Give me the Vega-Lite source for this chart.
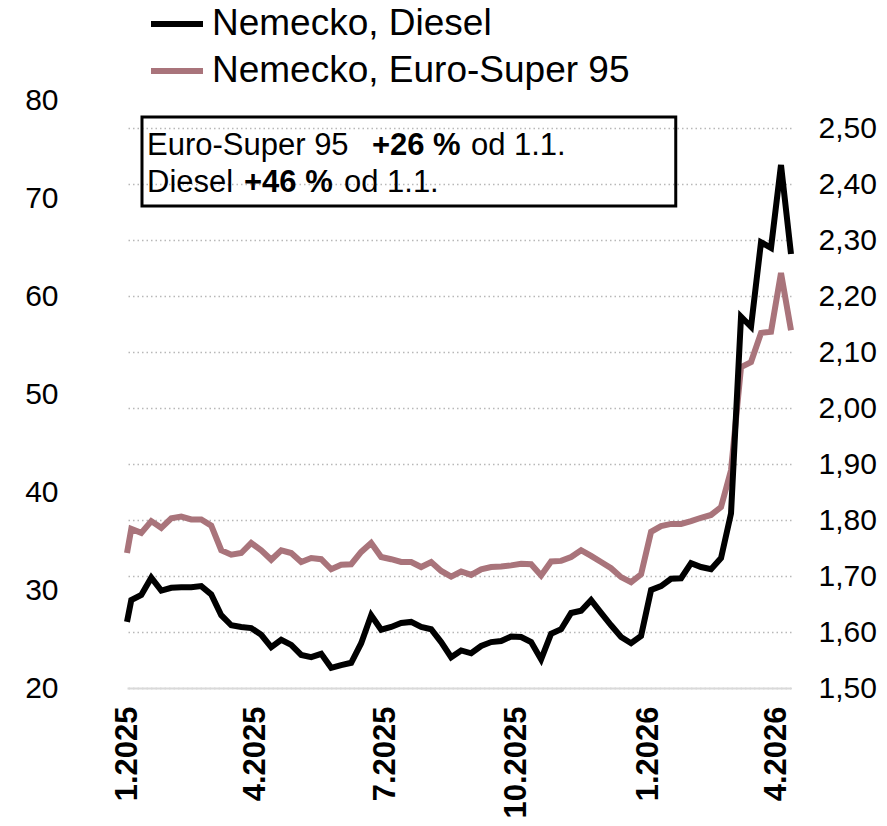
{
  "$schema": "https://vega.github.io/schema/vega-lite/v6.json",
  "width": 664,
  "height": 588,
  "autosize": {"type": "none"},
  "padding": {"left": 127, "top": 100, "right": 96, "bottom": 138},
  "background": "white",
  "config": {"view": {"stroke": null}, "font": "Liberation Sans"},
  "datasets": {
    "prices": [
      {"date": "2025-01-01", "series": "Nemecko, Euro-Super 95", "price": 1.741},
      {"date": "2025-01-04", "series": "Nemecko, Euro-Super 95", "price": 1.784},
      {"date": "2025-01-11", "series": "Nemecko, Euro-Super 95", "price": 1.777},
      {"date": "2025-01-18", "series": "Nemecko, Euro-Super 95", "price": 1.798},
      {"date": "2025-01-25", "series": "Nemecko, Euro-Super 95", "price": 1.786},
      {"date": "2025-02-01", "series": "Nemecko, Euro-Super 95", "price": 1.803},
      {"date": "2025-02-08", "series": "Nemecko, Euro-Super 95", "price": 1.806},
      {"date": "2025-02-15", "series": "Nemecko, Euro-Super 95", "price": 1.801},
      {"date": "2025-02-22", "series": "Nemecko, Euro-Super 95", "price": 1.801},
      {"date": "2025-03-01", "series": "Nemecko, Euro-Super 95", "price": 1.790},
      {"date": "2025-03-08", "series": "Nemecko, Euro-Super 95", "price": 1.746},
      {"date": "2025-03-15", "series": "Nemecko, Euro-Super 95", "price": 1.738},
      {"date": "2025-03-22", "series": "Nemecko, Euro-Super 95", "price": 1.741},
      {"date": "2025-03-29", "series": "Nemecko, Euro-Super 95", "price": 1.759},
      {"date": "2025-04-05", "series": "Nemecko, Euro-Super 95", "price": 1.746},
      {"date": "2025-04-12", "series": "Nemecko, Euro-Super 95", "price": 1.729},
      {"date": "2025-04-19", "series": "Nemecko, Euro-Super 95", "price": 1.746},
      {"date": "2025-04-26", "series": "Nemecko, Euro-Super 95", "price": 1.741},
      {"date": "2025-05-03", "series": "Nemecko, Euro-Super 95", "price": 1.725},
      {"date": "2025-05-10", "series": "Nemecko, Euro-Super 95", "price": 1.732},
      {"date": "2025-05-17", "series": "Nemecko, Euro-Super 95", "price": 1.730},
      {"date": "2025-05-24", "series": "Nemecko, Euro-Super 95", "price": 1.712},
      {"date": "2025-05-31", "series": "Nemecko, Euro-Super 95", "price": 1.720},
      {"date": "2025-06-07", "series": "Nemecko, Euro-Super 95", "price": 1.721},
      {"date": "2025-06-14", "series": "Nemecko, Euro-Super 95", "price": 1.743},
      {"date": "2025-06-21", "series": "Nemecko, Euro-Super 95", "price": 1.759},
      {"date": "2025-06-28", "series": "Nemecko, Euro-Super 95", "price": 1.734},
      {"date": "2025-07-05", "series": "Nemecko, Euro-Super 95", "price": 1.730},
      {"date": "2025-07-12", "series": "Nemecko, Euro-Super 95", "price": 1.725},
      {"date": "2025-07-19", "series": "Nemecko, Euro-Super 95", "price": 1.725},
      {"date": "2025-07-26", "series": "Nemecko, Euro-Super 95", "price": 1.716},
      {"date": "2025-08-02", "series": "Nemecko, Euro-Super 95", "price": 1.725},
      {"date": "2025-08-09", "series": "Nemecko, Euro-Super 95", "price": 1.709},
      {"date": "2025-08-16", "series": "Nemecko, Euro-Super 95", "price": 1.699},
      {"date": "2025-08-23", "series": "Nemecko, Euro-Super 95", "price": 1.708},
      {"date": "2025-08-30", "series": "Nemecko, Euro-Super 95", "price": 1.702},
      {"date": "2025-09-06", "series": "Nemecko, Euro-Super 95", "price": 1.712},
      {"date": "2025-09-13", "series": "Nemecko, Euro-Super 95", "price": 1.716},
      {"date": "2025-09-20", "series": "Nemecko, Euro-Super 95", "price": 1.717},
      {"date": "2025-09-27", "series": "Nemecko, Euro-Super 95", "price": 1.719},
      {"date": "2025-10-04", "series": "Nemecko, Euro-Super 95", "price": 1.722},
      {"date": "2025-10-11", "series": "Nemecko, Euro-Super 95", "price": 1.721},
      {"date": "2025-10-18", "series": "Nemecko, Euro-Super 95", "price": 1.701},
      {"date": "2025-10-25", "series": "Nemecko, Euro-Super 95", "price": 1.726},
      {"date": "2025-11-01", "series": "Nemecko, Euro-Super 95", "price": 1.727},
      {"date": "2025-11-08", "series": "Nemecko, Euro-Super 95", "price": 1.734},
      {"date": "2025-11-15", "series": "Nemecko, Euro-Super 95", "price": 1.746},
      {"date": "2025-11-22", "series": "Nemecko, Euro-Super 95", "price": 1.736},
      {"date": "2025-11-29", "series": "Nemecko, Euro-Super 95", "price": 1.725},
      {"date": "2025-12-06", "series": "Nemecko, Euro-Super 95", "price": 1.714},
      {"date": "2025-12-13", "series": "Nemecko, Euro-Super 95", "price": 1.698},
      {"date": "2025-12-20", "series": "Nemecko, Euro-Super 95", "price": 1.689},
      {"date": "2025-12-27", "series": "Nemecko, Euro-Super 95", "price": 1.703},
      {"date": "2026-01-03", "series": "Nemecko, Euro-Super 95", "price": 1.779},
      {"date": "2026-01-10", "series": "Nemecko, Euro-Super 95", "price": 1.789},
      {"date": "2026-01-17", "series": "Nemecko, Euro-Super 95", "price": 1.793},
      {"date": "2026-01-24", "series": "Nemecko, Euro-Super 95", "price": 1.793},
      {"date": "2026-01-31", "series": "Nemecko, Euro-Super 95", "price": 1.798},
      {"date": "2026-02-07", "series": "Nemecko, Euro-Super 95", "price": 1.804},
      {"date": "2026-02-14", "series": "Nemecko, Euro-Super 95", "price": 1.809},
      {"date": "2026-02-21", "series": "Nemecko, Euro-Super 95", "price": 1.823},
      {"date": "2026-02-28", "series": "Nemecko, Euro-Super 95", "price": 1.889},
      {"date": "2026-03-07", "series": "Nemecko, Euro-Super 95", "price": 2.073},
      {"date": "2026-03-14", "series": "Nemecko, Euro-Super 95", "price": 2.082},
      {"date": "2026-03-21", "series": "Nemecko, Euro-Super 95", "price": 2.134},
      {"date": "2026-03-28", "series": "Nemecko, Euro-Super 95", "price": 2.136},
      {"date": "2026-04-04", "series": "Nemecko, Euro-Super 95", "price": 2.241},
      {"date": "2026-04-11", "series": "Nemecko, Euro-Super 95", "price": 2.139},
      {"date": "2025-01-01", "series": "Nemecko, Diesel", "price": 1.618},
      {"date": "2025-01-04", "series": "Nemecko, Diesel", "price": 1.657},
      {"date": "2025-01-11", "series": "Nemecko, Diesel", "price": 1.666},
      {"date": "2025-01-18", "series": "Nemecko, Diesel", "price": 1.697},
      {"date": "2025-01-25", "series": "Nemecko, Diesel", "price": 1.674},
      {"date": "2025-02-01", "series": "Nemecko, Diesel", "price": 1.679},
      {"date": "2025-02-08", "series": "Nemecko, Diesel", "price": 1.680},
      {"date": "2025-02-15", "series": "Nemecko, Diesel", "price": 1.680},
      {"date": "2025-02-22", "series": "Nemecko, Diesel", "price": 1.682},
      {"date": "2025-03-01", "series": "Nemecko, Diesel", "price": 1.667},
      {"date": "2025-03-08", "series": "Nemecko, Diesel", "price": 1.630},
      {"date": "2025-03-15", "series": "Nemecko, Diesel", "price": 1.612},
      {"date": "2025-03-22", "series": "Nemecko, Diesel", "price": 1.609},
      {"date": "2025-03-29", "series": "Nemecko, Diesel", "price": 1.607},
      {"date": "2025-04-05", "series": "Nemecko, Diesel", "price": 1.595},
      {"date": "2025-04-12", "series": "Nemecko, Diesel", "price": 1.573},
      {"date": "2025-04-19", "series": "Nemecko, Diesel", "price": 1.586},
      {"date": "2025-04-26", "series": "Nemecko, Diesel", "price": 1.577},
      {"date": "2025-05-03", "series": "Nemecko, Diesel", "price": 1.559},
      {"date": "2025-05-10", "series": "Nemecko, Diesel", "price": 1.555},
      {"date": "2025-05-17", "series": "Nemecko, Diesel", "price": 1.561},
      {"date": "2025-05-24", "series": "Nemecko, Diesel", "price": 1.536},
      {"date": "2025-05-31", "series": "Nemecko, Diesel", "price": 1.541},
      {"date": "2025-06-07", "series": "Nemecko, Diesel", "price": 1.545},
      {"date": "2025-06-14", "series": "Nemecko, Diesel", "price": 1.580},
      {"date": "2025-06-21", "series": "Nemecko, Diesel", "price": 1.630},
      {"date": "2025-06-28", "series": "Nemecko, Diesel", "price": 1.604},
      {"date": "2025-07-05", "series": "Nemecko, Diesel", "price": 1.609},
      {"date": "2025-07-12", "series": "Nemecko, Diesel", "price": 1.616},
      {"date": "2025-07-19", "series": "Nemecko, Diesel", "price": 1.618},
      {"date": "2025-07-26", "series": "Nemecko, Diesel", "price": 1.609},
      {"date": "2025-08-02", "series": "Nemecko, Diesel", "price": 1.605},
      {"date": "2025-08-09", "series": "Nemecko, Diesel", "price": 1.582},
      {"date": "2025-08-16", "series": "Nemecko, Diesel", "price": 1.555},
      {"date": "2025-08-23", "series": "Nemecko, Diesel", "price": 1.567},
      {"date": "2025-08-30", "series": "Nemecko, Diesel", "price": 1.562},
      {"date": "2025-09-06", "series": "Nemecko, Diesel", "price": 1.575},
      {"date": "2025-09-13", "series": "Nemecko, Diesel", "price": 1.582},
      {"date": "2025-09-20", "series": "Nemecko, Diesel", "price": 1.584},
      {"date": "2025-09-27", "series": "Nemecko, Diesel", "price": 1.592},
      {"date": "2025-10-04", "series": "Nemecko, Diesel", "price": 1.591},
      {"date": "2025-10-11", "series": "Nemecko, Diesel", "price": 1.582},
      {"date": "2025-10-18", "series": "Nemecko, Diesel", "price": 1.551},
      {"date": "2025-10-25", "series": "Nemecko, Diesel", "price": 1.597},
      {"date": "2025-11-01", "series": "Nemecko, Diesel", "price": 1.605},
      {"date": "2025-11-08", "series": "Nemecko, Diesel", "price": 1.634},
      {"date": "2025-11-15", "series": "Nemecko, Diesel", "price": 1.638},
      {"date": "2025-11-22", "series": "Nemecko, Diesel", "price": 1.657},
      {"date": "2025-11-29", "series": "Nemecko, Diesel", "price": 1.634},
      {"date": "2025-12-06", "series": "Nemecko, Diesel", "price": 1.612},
      {"date": "2025-12-13", "series": "Nemecko, Diesel", "price": 1.591},
      {"date": "2025-12-20", "series": "Nemecko, Diesel", "price": 1.580},
      {"date": "2025-12-27", "series": "Nemecko, Diesel", "price": 1.593},
      {"date": "2026-01-03", "series": "Nemecko, Diesel", "price": 1.675},
      {"date": "2026-01-10", "series": "Nemecko, Diesel", "price": 1.682},
      {"date": "2026-01-17", "series": "Nemecko, Diesel", "price": 1.695},
      {"date": "2026-01-24", "series": "Nemecko, Diesel", "price": 1.696},
      {"date": "2026-01-31", "series": "Nemecko, Diesel", "price": 1.723},
      {"date": "2026-02-07", "series": "Nemecko, Diesel", "price": 1.716},
      {"date": "2026-02-14", "series": "Nemecko, Diesel", "price": 1.712},
      {"date": "2026-02-21", "series": "Nemecko, Diesel", "price": 1.732},
      {"date": "2026-02-28", "series": "Nemecko, Diesel", "price": 1.812},
      {"date": "2026-03-07", "series": "Nemecko, Diesel", "price": 2.163},
      {"date": "2026-03-14", "series": "Nemecko, Diesel", "price": 2.145},
      {"date": "2026-03-21", "series": "Nemecko, Diesel", "price": 2.296},
      {"date": "2026-03-28", "series": "Nemecko, Diesel", "price": 2.286},
      {"date": "2026-04-04", "series": "Nemecko, Diesel", "price": 2.434},
      {"date": "2026-04-11", "series": "Nemecko, Diesel", "price": 2.275}
    ],
    "box": [
      {"date": "2025-01-11T12:00:00Z", "date2": "2026-01-20T07:00:00Z", "y": 78.27, "y2": 69.18}
    ],
    "notes": [
      {"date": "2025-01-15T00:00:00Z", "y": 74.39, "t": "Euro-Super 95", "bold": false},
      {"date": "2025-06-21T12:00:00Z", "y": 74.39, "t": "+26 %", "bold": true},
      {"date": "2025-08-29T20:00:00Z", "y": 74.39, "t": "od 1.1.", "bold": false},
      {"date": "2025-01-15T00:00:00Z", "y": 70.61, "t": "Diesel", "bold": false},
      {"date": "2025-03-23T22:00:00Z", "y": 70.61, "t": "+46 %", "bold": true},
      {"date": "2025-06-01T22:00:00Z", "y": 70.61, "t": "od 1.1.", "bold": false}
    ]
  },
  "encoding": {
    "x": {
      "field": "date",
      "type": "temporal",
      "scale": {
        "type": "utc",
        "nice": false,
        "domain": [
          {"year": 2025, "month": 1, "date": 1, "utc": true},
          {"year": 2026, "month": 4, "date": 11, "utc": true}
        ]
      },
      "axis": {
        "orient": "bottom",
        "title": null,
        "values": [
          {"year": 2025, "month": 1, "date": 1, "utc": true},
          {"year": 2025, "month": 4, "date": 1, "utc": true},
          {"year": 2025, "month": 7, "date": 1, "utc": true},
          {"year": 2025, "month": 10, "date": 1, "utc": true},
          {"year": 2026, "month": 1, "date": 1, "utc": true},
          {"year": 2026, "month": 4, "date": 1, "utc": true}
        ],
        "labelExpr": "utcFormat(datum.value, '%-m.%Y')",
        "labelAngle": -90,
        "labelFontWeight": "bold",
        "labelFontSize": 31,
        "labelColor": "black",
        "labelPadding": 18,
        "labelFlush": false,
        "labelOverlap": false,
        "ticks": false,
        "grid": false,
        "domain": true,
        "domainColor": "#d9d9d9",
        "domainWidth": 2,
        "zindex": 1
      }
    }
  },
  "layer": [
    {
      "data": {"name": "prices"},
      "mark": {"type": "line", "strokeWidth": 6},
      "encoding": {
        "y": {
          "field": "price",
          "type": "quantitative",
          "scale": {"domain": [1.5, 2.55], "nice": false, "zero": false},
          "axis": {
            "orient": "right",
            "title": null,
            "values": [1.5, 1.6, 1.7, 1.8, 1.9, 2.0, 2.1, 2.2, 2.3, 2.4, 2.5],
            "labelExpr": "replace(format(datum.value, '.2f'), '.', ',')",
            "labelFontSize": 30,
            "labelColor": "black",
            "labelPadding": 27,
            "ticks": false,
            "domain": false,
            "grid": true,
            "gridColor": "#b8b8b8",
            "gridDash": [1.5, 3],
            "gridWidth": 1.5
          }
        },
        "color": {
          "field": "series",
          "type": "nominal",
          "scale": {
            "domain": ["Nemecko, Diesel", "Nemecko, Euro-Super 95"],
            "range": ["#000000", "#a9747b"]
          },
          "legend": {
            "orient": "none",
            "legendX": 21,
            "legendY": -105,
            "direction": "vertical",
            "title": null,
            "symbolType": "stroke",
            "symbolSize": 2704,
            "symbolStrokeWidth": 6,
            "labelFontSize": 37,
            "labelColor": "black",
            "labelOffset": 6,
            "labelLimit": 800,
            "rowPadding": -7
          }
        }
      }
    },
    {
      "encoding": {
        "y": {
          "field": "y",
          "type": "quantitative",
          "scale": {"domain": [20, 80], "nice": false, "zero": false},
          "axis": {
            "orient": "left",
            "title": null,
            "values": [20, 30, 40, 50, 60, 70, 80],
            "format": "d",
            "labelFontSize": 30,
            "labelColor": "black",
            "labelPadding": 69,
            "ticks": false,
            "domain": false,
            "grid": false
          }
        }
      },
      "layer": [
        {
          "data": {"name": "box"},
          "mark": {"type": "rect", "fill": "white", "fillOpacity": 0, "stroke": "black", "strokeWidth": 3},
          "encoding": {
            "x2": {"field": "date2"},
            "y2": {"field": "y2"}
          }
        },
        {
          "data": {"name": "notes"},
          "transform": [{"filter": "!datum.bold"}],
          "mark": {"type": "text", "align": "left", "baseline": "alphabetic", "fontSize": 31, "color": "black"},
          "encoding": {"text": {"field": "t"}}
        },
        {
          "data": {"name": "notes"},
          "transform": [{"filter": "datum.bold"}],
          "mark": {"type": "text", "align": "left", "baseline": "alphabetic", "fontSize": 31, "fontWeight": "bold", "color": "black"},
          "encoding": {"text": {"field": "t"}}
        }
      ]
    }
  ],
  "resolve": {"scale": {"y": "independent"}}
}
